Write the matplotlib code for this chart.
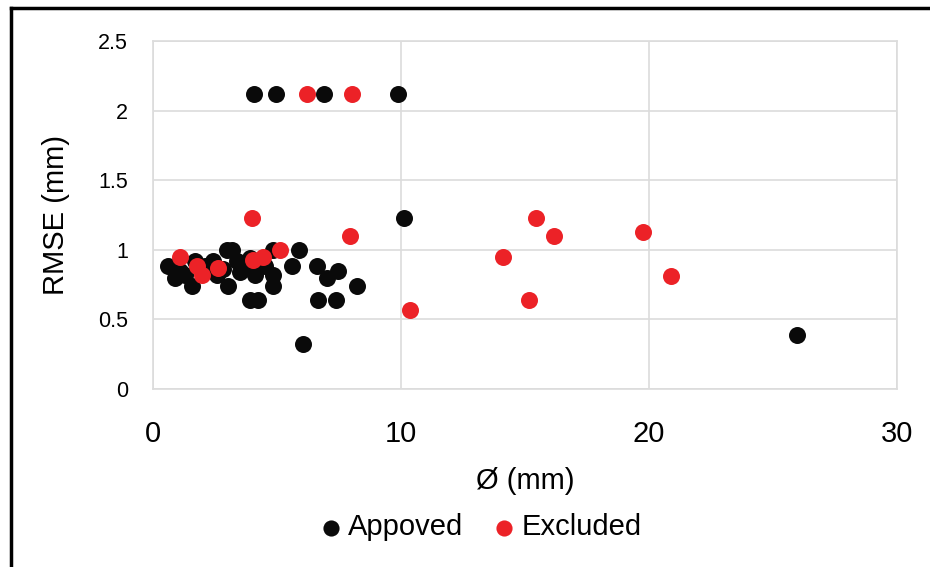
import matplotlib
matplotlib.use('Agg')
import matplotlib.pyplot as plt
from matplotlib.lines import Line2D

plt.rcParams['font.family'] = ['Liberation Sans', 'DejaVu Sans']

# Approved points (diameter mm, RMSE mm)
approved_x = [4.07, 4.95, 6.9, 9.89, 10.12, 25.97, 6.03,
              0.62, 0.89, 1.1, 1.29, 1.56, 1.69, 2.1, 2.43, 2.6, 2.83, 2.97,
              3.2, 3.04, 3.4, 3.5, 3.7, 3.91, 4.11, 3.91, 4.25, 4.5, 4.85,
              4.85, 4.85, 5.59, 5.9, 6.6, 7.0, 7.47, 8.24, 6.67, 7.38]
approved_y = [2.12, 2.12, 2.12, 2.12, 1.23, 0.39, 0.32,
              0.88, 0.80, 0.85, 0.82, 0.74, 0.92, 0.88, 0.92, 0.82, 0.86, 1.0,
              1.0, 0.74, 0.92, 0.84, 0.88, 0.94, 0.82, 0.64, 0.64, 0.88, 1.0,
              0.82, 0.74, 0.88, 1.0, 0.88, 0.80, 0.85, 0.74, 0.64, 0.64]

# Excluded points
excluded_x = [6.2, 8.01, 3.98, 7.94, 1.09, 1.76, 1.96, 2.63, 4.05, 4.45,
              5.12, 10.36, 14.1, 15.16, 15.44, 16.17, 19.76, 20.89]
excluded_y = [2.12, 2.12, 1.23, 1.10, 0.95, 0.88, 0.82, 0.87, 0.93, 0.95,
              1.0, 0.57, 0.95, 0.64, 1.23, 1.10, 1.13, 0.81]

fig = plt.figure(figsize=(9.3, 5.67), dpi=100)
ax = fig.add_axes([0.1645, 0.314, 0.80, 0.6137])

ax.scatter(approved_x, approved_y, s=150, color='#0a0a0a', label='Appoved',
           zorder=3, linewidths=0)
ax.scatter(excluded_x, excluded_y, s=150, color='#ec2227', label='Excluded',
           zorder=3, linewidths=0)

ax.set_xlim(0, 30)
ax.set_ylim(0, 2.5)
ax.set_xticks([0, 10, 20, 30])
ax.set_yticks([0, 0.5, 1, 1.5, 2, 2.5])
ax.set_yticklabels(['0', '0.5', '1', '1.5', '2', '2.5'])
ax.grid(True, color='#dcdcdc', linewidth=1.2)
ax.set_axisbelow(True)
for sp in ax.spines.values():
    sp.set_color('#dcdcdc')
    sp.set_linewidth(1.2)
ax.tick_params(axis='x', length=0, pad=22, labelsize=21)
ax.tick_params(axis='y', length=0, pad=18, labelsize=15.5)

ax.set_xlabel('Ø (mm)', fontsize=21, labelpad=14)
ax.set_ylabel('RMSE (mm)', fontsize=21, labelpad=20)

leg = fig.legend(loc='center', bbox_to_anchor=(0.515, 0.07), ncol=2,
                 frameon=False, fontsize=21, markerscale=0.95,
                 handletextpad=0.1, columnspacing=0.9, handlelength=1.0)

# outer black frame (left and top edges visible)
fig.add_artist(Line2D([11 / 930, 11 / 930], [0, 1 - 8 / 567],
                      transform=fig.transFigure, color='black', linewidth=2.5))
fig.add_artist(Line2D([11 / 930, 1], [1 - 8 / 567, 1 - 8 / 567],
                      transform=fig.transFigure, color='black', linewidth=2.5))

fig.savefig('out.png', dpi=100)
